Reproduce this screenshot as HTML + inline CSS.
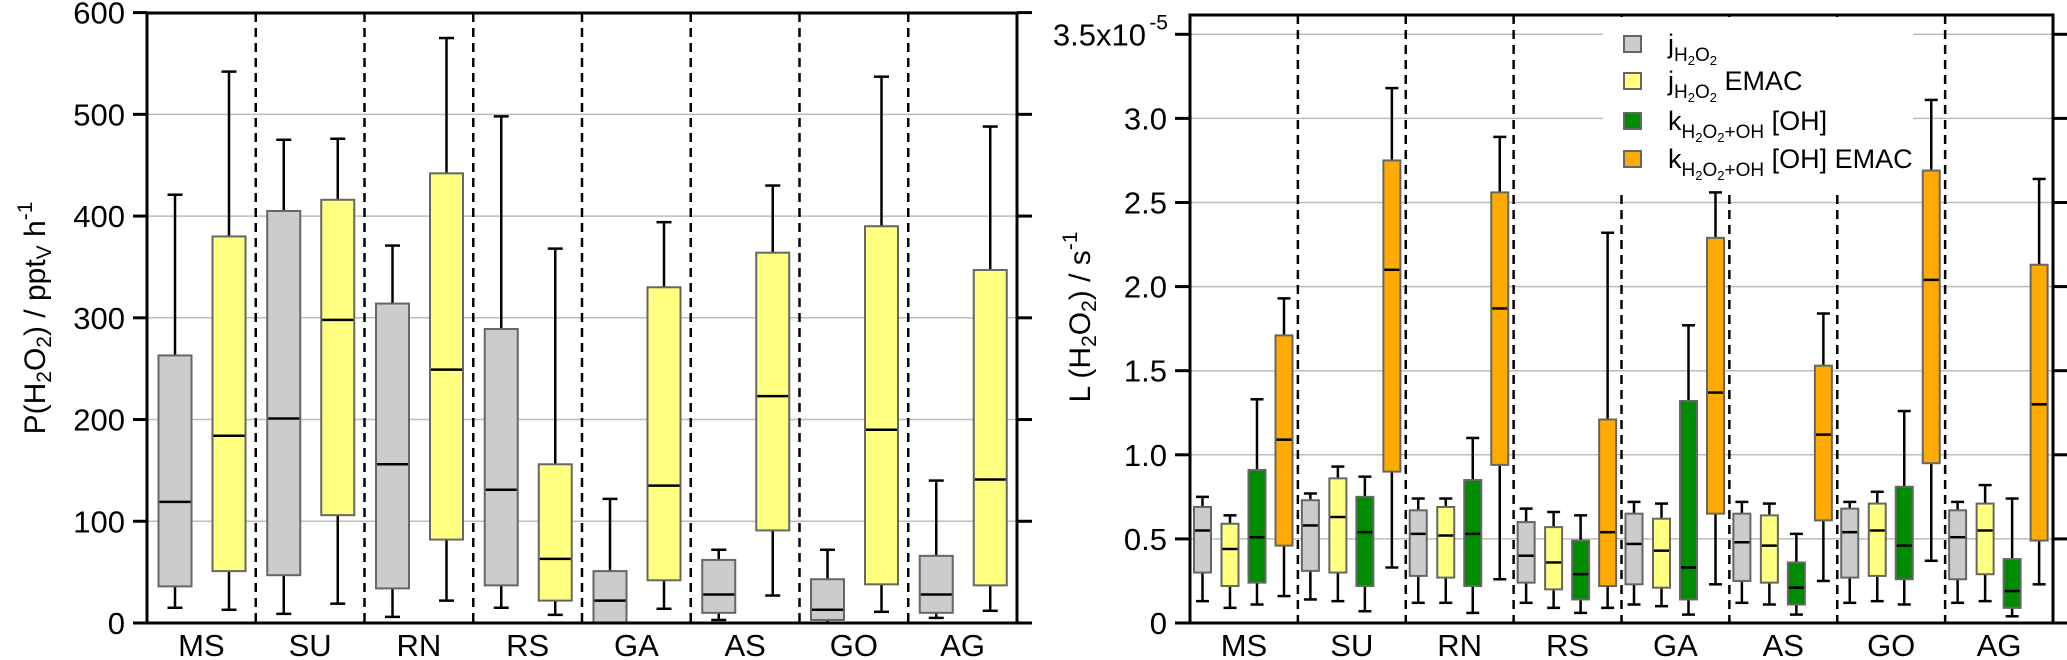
<!DOCTYPE html>
<html><head><meta charset="utf-8"><style>
body{margin:0;background:#fff;}
svg{display:block;font-family:"Liberation Sans",Arial,sans-serif;}
</style></head><body>
<svg id="chart" width="2067" height="660" viewBox="0 0 2067 660" xmlns="http://www.w3.org/2000/svg"></svg>
<script>
const categories=["MS","SU","RN","RS","GA","AS","GO","AG"];
// left: [whiskerLow, q1, median, q3, whiskerHigh]
const prodJ=[[15,36,119,263,421],[9,47,201,405,475],[6,34,156,314,371],[15,37,131,289,498],[0,0,22,51,122],[3,10,28,62,72],[0,3,13,43,72],[5,10,28,66,140]];
const prodJEmac=[[13,51,184,380,542],[19,106,298,416,476],[22,82,249,442,575],[8,22,63,156,368],[14,42,135,330,394],[27,91,223,364,430],[11,38,190,390,537],[12,37,141,347,488]];
const leftTicks=[0,100,200,300,400,500,600];
// right (x1e-5 s^-1)
const lossJ=[[0.13,0.30,0.55,0.69,0.75],[0.14,0.31,0.58,0.73,0.77],[0.12,0.28,0.53,0.67,0.74],[0.12,0.24,0.40,0.60,0.68],[0.11,0.23,0.47,0.65,0.72],[0.12,0.25,0.48,0.65,0.72],[0.12,0.27,0.54,0.68,0.72],[0.12,0.26,0.51,0.67,0.72]];
const lossJEmac=[[0.09,0.22,0.44,0.59,0.64],[0.13,0.30,0.63,0.86,0.93],[0.12,0.27,0.52,0.69,0.74],[0.09,0.20,0.36,0.57,0.66],[0.10,0.21,0.43,0.62,0.71],[0.11,0.24,0.46,0.64,0.71],[0.13,0.28,0.55,0.71,0.78],[0.13,0.29,0.55,0.71,0.82]];
const lossOH=[[0.11,0.24,0.51,0.91,1.33],[0.07,0.22,0.54,0.75,0.87],[0.06,0.22,0.53,0.85,1.10],[0.06,0.14,0.29,0.49,0.64],[0.05,0.14,0.33,1.32,1.77],[0.05,0.11,0.21,0.36,0.53],[0.11,0.26,0.46,0.81,1.26],[0.04,0.09,0.19,0.38,0.74]];
const lossOHEmac=[[0.16,0.46,1.09,1.71,1.93],[0.33,0.90,2.10,2.75,3.18],[0.26,0.94,1.87,2.56,2.89],[0.09,0.22,0.54,1.21,2.32],[0.23,0.65,1.37,2.29,2.56],[0.25,0.61,1.12,1.53,1.84],[0.37,0.95,2.04,2.69,3.11],[0.23,0.49,1.30,2.13,2.64]];
const rightTicks=[0,0.5,1.0,1.5,2.0,2.5,3.0,3.5];

const NS="http://www.w3.org/2000/svg";
const svg=document.getElementById('chart');
function mk(tag,at,parent){const e=document.createElementNS(NS,tag);for(const k in at)e.setAttribute(k,at[k]);(parent||svg).appendChild(e);return e;}

const L={x0:147,x1:1017,top:13,y0:623,max:600};
const R={x0:1190,x1:2053,top:15,y0:623,perUnit:168.2};
const ly=v=>L.y0-v*(L.y0-12.6)/L.max;
const ry=v=>R.y0-v*R.perUnit;
const lGroup=(L.x1-L.x0)/8, rGroup=(R.x1-R.x0)/8;

leftTicks.forEach(t=>{if(t>0&&t<600){const g=mk('line',{x1:L.x0,x2:L.x1,y1:ly(t),y2:ly(t),stroke:'#bdbdbd','stroke-width':1.5});

}});
rightTicks.forEach(t=>{if(t>0){const g=mk('line',{x1:R.x0,x2:R.x1,y1:ry(t),y2:ry(t),stroke:'#bdbdbd','stroke-width':1.5});

}});
for(let i=1;i<8;i++){
 const a=mk('line',{x1:L.x0+i*lGroup,x2:L.x0+i*lGroup,y1:L.top,y2:L.y0,stroke:'#000','stroke-width':2.5,'stroke-dasharray':'9,6'});
 
 
 const b=mk('line',{x1:R.x0+i*rGroup,x2:R.x0+i*rGroup,y1:R.top,y2:R.y0,stroke:'#000','stroke-width':2.5,'stroke-dasharray':'9,6'});
 
 
}
function box(d,cx,w,cap,fill,yf,name){
 const g=mk('g',{});
 
 
 mk('line',{x1:cx,x2:cx,y1:yf(d[0]),y2:yf(d[4]),stroke:'#000','stroke-width':2.5},g);
 mk('line',{x1:cx-cap/2,x2:cx+cap/2,y1:yf(d[0]),y2:yf(d[0]),stroke:'#000','stroke-width':2.5},g);
 mk('line',{x1:cx-cap/2,x2:cx+cap/2,y1:yf(d[4]),y2:yf(d[4]),stroke:'#000','stroke-width':2.5},g);
 mk('rect',{x:cx-w/2,y:yf(d[3]),width:w,height:Math.max(0.5,yf(d[1])-yf(d[3])),fill:fill,stroke:'#666','stroke-width':2},g);
 mk('line',{x1:cx-w/2+1,x2:cx+w/2-1,y1:yf(d[2]),y2:yf(d[2]),stroke:'#000','stroke-width':2.5},g);
}
categories.forEach((c,i)=>{
 const gx=L.x0+i*lGroup;
 box(prodJ[i],gx+28,33,15,'#cccccc',ly,'box-j-'+c);
 box(prodJEmac[i],gx+82,33,15,'#ffff80',ly,'box-j-emac-'+c);
 const rx=R.x0+i*rGroup;
 box(lossJ[i],rx+12.5,17,13,'#cccccc',ry,'box-loss-j-'+c);
 box(lossJEmac[i],rx+40,17,13,'#ffff80',ry,'box-loss-j-emac-'+c);
 box(lossOH[i],rx+67,17,13,'#008c00',ry,'box-loss-oh-'+c);
 box(lossOHEmac[i],rx+94,17,13,'#ffaa00',ry,'box-loss-oh-emac-'+c);
 let t=mk('text',{x:gx+lGroup/2,y:656,'font-size':31,'text-anchor':'middle'});t.textContent=c;
 
 
 t=mk('text',{x:rx+rGroup/2,y:656,'font-size':31,'text-anchor':'middle'});t.textContent=c;
 
 
});
mk('rect',{x:L.x0,y:L.top,width:L.x1-L.x0,height:L.y0-L.top,fill:'none',stroke:'#000','stroke-width':3});
mk('rect',{x:R.x0,y:R.top,width:R.x1-R.x0,height:R.y0-R.top,fill:'none',stroke:'#000','stroke-width':3});
leftTicks.forEach(t=>{
 mk('line',{x1:133,x2:L.x0,y1:ly(t),y2:ly(t),stroke:'#000','stroke-width':3});
 mk('line',{x1:L.x1,x2:1032,y1:ly(t),y2:ly(t),stroke:'#000','stroke-width':3});
 const e=mk('text',{x:125,y:ly(t)+11,'font-size':31,'text-anchor':'end'});e.textContent=t;
 
 
});
rightTicks.forEach(t=>{
 mk('line',{x1:1175,x2:R.x0,y1:ry(t),y2:ry(t),stroke:'#000','stroke-width':3});
 mk('line',{x1:R.x1,x2:2067,y1:ry(t),y2:ry(t),stroke:'#000','stroke-width':3});
 const e=mk('text',{x:1167,y:ry(t)+11,'font-size':31,'text-anchor':'end'});
 
 
 if(t===3.5){e.setAttribute('x',1146);e.textContent='3.5x10';const s=mk('text',{x:1168,y:ry(t)-5,'font-size':21,'text-anchor':'end'});s.textContent='-5';}
 else e.textContent=t===0?'0':t.toFixed(1);
});
const lg=mk('g',{});


mk('rect',{x:1603,y:17,width:310,height:173,fill:'#fff'},lg);
const legFill=['#cccccc','#ffff80','#008c00','#ffaa00'];
const legY=[44,81,121,159];
legY.forEach((y,i)=>{mk('rect',{x:1624,y:y-8,width:17,height:16,fill:legFill[i],stroke:'#666','stroke-width':2},lg);});
function legText(y,html){const t=mk('text',{x:1668,y:y+9,'font-size':27},lg);t.innerHTML=html;return t;}
legText(44,'j<tspan font-size="19" dy="8">H</tspan><tspan font-size="13" dy="4">2</tspan><tspan font-size="19" dy="-4">O</tspan><tspan font-size="13" dy="4">2</tspan>');
legText(81,'j<tspan font-size="19" dy="8">H</tspan><tspan font-size="13" dy="4">2</tspan><tspan font-size="19" dy="-4">O</tspan><tspan font-size="13" dy="4">2</tspan><tspan dy="-12"> EMAC</tspan>');
legText(121,'k<tspan font-size="19" dy="8">H</tspan><tspan font-size="13" dy="4">2</tspan><tspan font-size="19" dy="-4">O</tspan><tspan font-size="13" dy="4">2</tspan><tspan font-size="19" dy="-4">+OH</tspan><tspan dy="-8"> [OH]</tspan>');
legText(159,'k<tspan font-size="19" dy="8">H</tspan><tspan font-size="13" dy="4">2</tspan><tspan font-size="19" dy="-4">O</tspan><tspan font-size="13" dy="4">2</tspan><tspan font-size="19" dy="-4">+OH</tspan><tspan dy="-8"> [OH] EMAC</tspan>');
const yt1=mk('text',{x:0,y:0,'font-size':30,'text-anchor':'middle',transform:'translate(45,318) rotate(-90)'});
yt1.innerHTML='P(H<tspan font-size="21" dy="6">2</tspan><tspan dy="-6">O</tspan><tspan font-size="21" dy="6">2</tspan><tspan dy="-6">) / ppt</tspan><tspan font-size="21" dy="6">V</tspan><tspan dy="-6"> h</tspan><tspan font-size="21" dy="-13">-1</tspan>';


const yt2=mk('text',{x:0,y:0,'font-size':30,'text-anchor':'middle',transform:'translate(1090,317) rotate(-90)'});
yt2.innerHTML='L (H<tspan font-size="21" dy="6">2</tspan><tspan dy="-6">O</tspan><tspan font-size="21" dy="6">2</tspan><tspan dy="-6">) / s</tspan><tspan font-size="21" dy="-13">-1</tspan>';


</script>
</body></html>
